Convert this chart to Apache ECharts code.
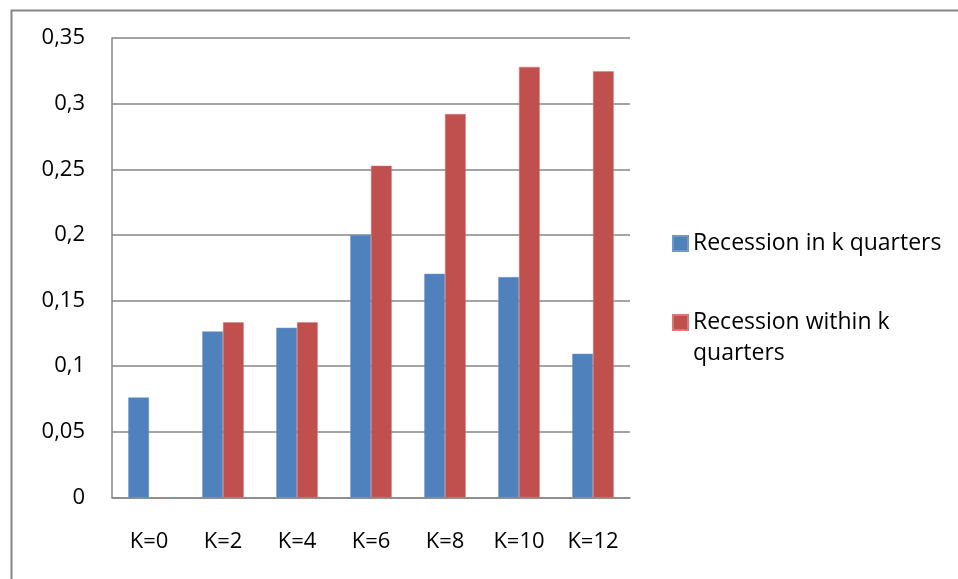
<!DOCTYPE html>
<html>
<head>
<meta charset="utf-8">
<script src="https://cdn.jsdelivr.net/npm/echarts@6/dist/echarts.min.js"></script>
<style>
  html, body { margin: 0; padding: 0; background: #ffffff; }
  #chart { width: 958px; height: 579px; }
</style>
</head>
<body>
<div id="chart"></div>
<script>
// Horizon labels
const categories = ['K=0', 'K=2', 'K=4', 'K=6', 'K=8', 'K=10', 'K=12'];

// Probability of a recession exactly k quarters ahead
const recessionIn = [0.0762, 0.1265, 0.1293, 0.2000, 0.1704, 0.1679, 0.1095];
// Probability of a recession at any point within the next k quarters
const recessionWithin = [0, 0.1334, 0.1334, 0.2527, 0.2921, 0.3280, 0.3247];

// Value-axis tick labels (decimal comma)
const yTickLabels = ['0', '0,05', '0,1', '0,15', '0,2', '0,25', '0,3', '0,35'];

const seriesNames = ['Recession in k quarters', 'Recession within k quarters'];

const FONT = 'Open Sans';
const TEXT = '#000000';
const GRID = '#868686';

const chart = echarts.init(document.getElementById('chart'));

chart.setOption({
  animation: false,
  backgroundColor: '#ffffff',
  textStyle: { fontFamily: FONT },
  graphic: [{
    type: 'rect',
    left: 9,
    top: 8,
    shape: { width: 1000, height: 1000 },
    style: { fill: 'none', stroke: GRID, lineWidth: 2 },
    silent: true
  }],
  grid: { left: 112, top: 38, right: 328, bottom: 81.5, containLabel: false },
  legend: [
    {
      data: [seriesNames[0]],
      orient: 'vertical',
      left: 672,
      top: 232,
      padding: 0,
      itemWidth: 15,
      itemHeight: 15,
      icon: 'rect',
      textStyle: { fontFamily: FONT, fontSize: 23, color: TEXT }
    },
    {
      data: [seriesNames[1]],
      orient: 'vertical',
      left: 672,
      top: 276,
      padding: 0,
      itemWidth: 15,
      itemHeight: 15,
      icon: 'rect',
      // leading blank line keeps the first text line level with the swatch
      formatter: () => '\nRecession within k\nquarters',
      textStyle: { fontFamily: FONT, fontSize: 23, color: TEXT, lineHeight: 31 }
    }
  ],
  xAxis: {
    type: 'category',
    data: categories,
    axisLine: { lineStyle: { color: GRID, width: 1.5 } },
    axisTick: { show: false },
    axisLabel: { fontFamily: FONT, fontSize: 22, color: TEXT, margin: 33 }
  },
  yAxis: {
    type: 'value',
    min: 0,
    max: 0.35,
    interval: 0.05,
    axisLine: { show: true, lineStyle: { color: GRID, width: 1.5 } },
    axisTick: { show: false },
    splitLine: { lineStyle: { color: GRID, width: 1.5 } },
    axisLabel: {
      fontFamily: FONT, fontSize: 22, color: TEXT, margin: 27,
      formatter: (value, index) => yTickLabels[index]
    }
  },
  series: [
    {
      name: seriesNames[0],
      type: 'bar',
      data: recessionIn,
      barGap: '0%',
      barCategoryGap: '44%',
      itemStyle: { color: '#4F81BD', borderColor: '#6f98cc', borderWidth: 0.5 }
    },
    {
      name: seriesNames[1],
      type: 'bar',
      data: recessionWithin,
      barGap: '0%',
      barCategoryGap: '44%',
      itemStyle: { color: '#C0504D', borderColor: '#d47a77', borderWidth: 0.5 }
    }
  ]
});
</script>
</body>
</html>
